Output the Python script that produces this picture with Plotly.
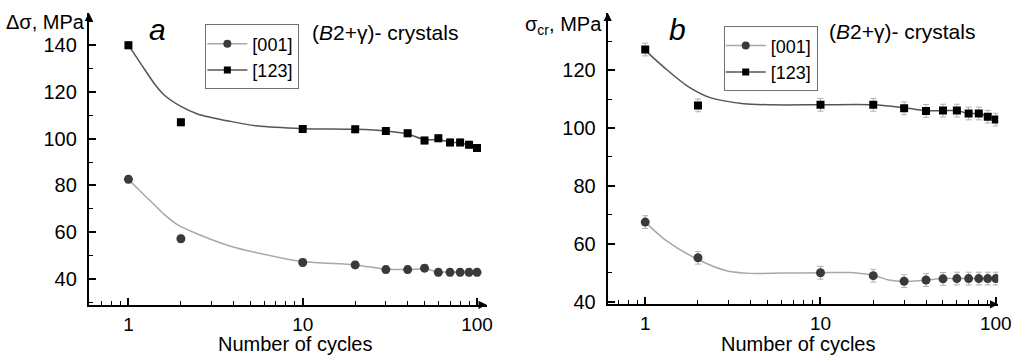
import plotly.graph_objects as go

W, H = 1028, 364
FONT = "Liberation Sans, Arial, sans-serif"

# ---------------- data ----------------
cycles = [1, 2, 10, 20, 30, 40, 50, 60, 70, 80, 90, 100]

# panel a : delta sigma, MPa
a_001 = [82.6, 57.2, 47.0, 46.0, 44.0, 44.0, 44.6, 42.8, 42.8, 42.8, 42.8, 42.8]
a_123 = [140.0, 107.0, 104.1, 104.0, 103.3, 102.3, 99.2, 100.2, 98.4, 98.4, 97.4, 96.0]
a_err = [1.5] * 12

a_fit001_x = [1, 1.19, 1.36, 1.61, 1.92, 2.49, 3.85, 5.45, 10, 20, 30, 40, 50, 60, 70, 80, 90, 100]
a_fit001_y = [82.6, 77.0, 72.8, 67.5, 63.1, 59.2, 54.0, 51.2, 47.4, 46.0, 44.2, 44.0, 44.3, 43.0, 43.0, 43.0, 43.0, 43.0]
a_fit123_x = [1, 1.19, 1.42, 1.61, 2, 2.49, 3.85, 5.45, 10, 20, 30, 40, 50, 60, 70, 80, 90, 100]
a_fit123_y = [140.0, 131.6, 123.2, 118.6, 113.8, 110.6, 107.4, 105.5, 104.3, 104.0, 103.3, 102.0, 99.6, 99.6, 98.5, 98.2, 97.3, 96.2]

# panel b : sigma_cr, MPa
b_001 = [67.5, 55.2, 50.0, 49.0, 47.1, 47.5, 47.9, 48.0, 48.0, 48.0, 48.0, 48.0]
b_123 = [127.1, 107.8, 108.0, 108.0, 106.8, 105.9, 106.0, 106.0, 105.0, 105.0, 103.9, 102.9]
b_err = [2.2] * 12

b_fit001_x = [1, 1.3, 2, 2.95, 4, 6.1, 10, 14.7, 20.4, 24.5, 30, 40, 50, 60, 70, 80, 90, 100]
b_fit001_y = [67.5, 61.4, 54.6, 50.6, 49.8, 49.9, 50.0, 50.1, 49.0, 47.5, 47.0, 47.5, 48.0, 48.0, 48.0, 48.0, 48.0, 48.0]
b_fit123_x = [1, 1.3, 1.75, 2.37, 3.65, 5.17, 10, 20, 30, 40, 50, 60, 70, 80, 90, 100]
b_fit123_y = [126.8, 120.6, 114.4, 110.4, 108.4, 108.0, 108.0, 108.0, 107.0, 106.0, 106.0, 106.0, 105.0, 105.0, 104.0, 103.0]

x_ticks = [1, 10, 100]
x_minor = [0.6, 0.7, 0.8, 0.9, 2, 3, 4, 5, 6, 7, 8, 9, 20, 30, 40, 50, 60, 70, 80, 90]
a_yticks = [40, 60, 80, 100, 120, 140]
a_yminor = [30, 50, 70, 90, 110, 130, 150]
b_yticks = [40, 60, 80, 100, 120]
b_yminor = [50, 70, 90, 110, 130]

C001 = "#3a3a3a"
C123 = "#000000"
L001 = "#a8a8a8"
L123 = "#555555"
ERRC = "#b0b0b0"

fig = go.Figure()


def add_panel(xa, ya, y001, y123, err, fx1, fy1, fx2, fy2, legend):
    fig.add_trace(go.Scatter(x=fx1, y=fy1, mode="lines", line=dict(color=L001, width=1.5, shape="spline", smoothing=0.8),
                             xaxis=xa, yaxis=ya, showlegend=False, hoverinfo="skip"))
    fig.add_trace(go.Scatter(x=fx2, y=fy2, mode="lines", line=dict(color=L123, width=1.5, shape="spline", smoothing=0.8),
                             xaxis=xa, yaxis=ya, showlegend=False, hoverinfo="skip"))
    fig.add_trace(go.Scatter(x=cycles, y=y001, mode="markers",
                             marker=dict(symbol="circle", size=9, color=C001),
                             error_y=dict(type="data", array=err, color=ERRC, thickness=1, width=3),
                             xaxis=xa, yaxis=ya, showlegend=False))
    fig.add_trace(go.Scatter(x=cycles, y=y123, mode="markers",
                             marker=dict(symbol="square", size=8, color=C123),
                             error_y=dict(type="data", array=err, color=ERRC, thickness=1, width=3),
                             xaxis=xa, yaxis=ya, showlegend=False))
    # legend-only entries (line + marker)
    fig.add_trace(go.Scatter(x=[None], y=[None], mode="lines+markers", name="[001]",
                             line=dict(color=L001, width=1.5), marker=dict(symbol="circle", size=8, color=C001),
                             xaxis=xa, yaxis=ya, legend=legend))
    fig.add_trace(go.Scatter(x=[None], y=[None], mode="lines+markers", name="[123]",
                             line=dict(color=L123, width=1.5), marker=dict(symbol="square", size=7, color=C123),
                             xaxis=xa, yaxis=ya, legend=legend))


add_panel("x", "y", a_001, a_123, a_err, a_fit001_x, a_fit001_y, a_fit123_x, a_fit123_y, "legend")
add_panel("x2", "y2", b_001, b_123, b_err, b_fit001_x, b_fit001_y, b_fit123_x, b_fit123_y, "legend2")


def px_x(p):
    return p / W


def px_y(p):
    return 1 - p / H


def xaxis_cfg(x0, x1, rng):
    return dict(domain=[px_x(x0), px_x(x1)], type="log", range=rng,
                tickvals=x_ticks, ticktext=[str(v) for v in x_ticks],
                ticks="inside", ticklen=7, tickwidth=1.5, tickcolor="black",
                minor=dict(tickvals=x_minor, ticks="inside", ticklen=4, tickwidth=1.2, tickcolor="black"),
                showline=True, linecolor="black", linewidth=2, showgrid=False, zeroline=False,
                tickfont=dict(family=FONT, size=19, color="black"), ticklabelstandoff=1)


def yaxis_cfg(y0, y1, rng, ticks, minor, anchor):
    return dict(domain=[px_y(y1), px_y(y0)], range=rng, anchor=anchor,
                tickvals=ticks, ticks="inside", ticklen=7, tickwidth=1.5, tickcolor="black",
                minor=dict(tickvals=minor, ticks="inside", ticklen=4, tickwidth=1.2, tickcolor="black"),
                showline=True, linecolor="black", linewidth=2, showgrid=False, zeroline=False,
                tickfont=dict(family=FONT, size=20, color="black"), ticklabelstandoff=6)


LEG = dict(xanchor="left", yanchor="top", bordercolor="#707070", borderwidth=1, bgcolor="white",
           font=dict(family=FONT, size=18, color="black"), itemwidth=40, tracegroupgap=0, indentation=-4)

fig.update_layout(
    width=W, height=H, margin=dict(l=0, r=0, t=0, b=0),
    paper_bgcolor="white", plot_bgcolor="white",
    font=dict(family=FONT, size=18, color="black"),
    xaxis=dict(xaxis_cfg(90, 493, [-0.227, 2.056]), anchor="y"),
    yaxis=yaxis_cfg(13, 311.7, [28.9, 153.9], a_yticks, a_yminor, "x"),
    xaxis2=dict(xaxis_cfg(615.5, 1011, [-0.214, 2.014]), anchor="y2"),
    yaxis2=yaxis_cfg(13, 311.2, [39.1, 139.8], b_yticks, b_yminor, "x2"),
    legend=dict(LEG, x=px_x(208), y=px_y(25)),
    legend2=dict(LEG, x=px_x(733), y=px_y(27)),
)

ann = []
# axis arrows
for xr, yr in (("x", "y"), ("x2", "y2")):
    ann.append(dict(xref=f"{xr} domain", yref=f"{yr} domain", x=0, y=1, ax=0, ay=6,
                    showarrow=True, arrowhead=2, arrowsize=1.1, arrowwidth=1.5, arrowcolor="black", text=""))
    ann.append(dict(xref=f"{xr} domain", yref=f"{yr} domain", x=1, y=0, ax=-6, ay=0,
                    showarrow=True, arrowhead=2, arrowsize=1.1, arrowwidth=1.5, arrowcolor="black", text=""))

ann += [
    dict(xref="paper", yref="paper", x=px_x(88), y=px_y(23), xanchor="right", yanchor="middle",
         text="Δσ, MPa", showarrow=False, font=dict(family=FONT, size=20)),
    dict(xref="paper", yref="paper", x=px_x(612), y=px_y(26), xanchor="right", yanchor="middle",
         text="σ<sub>cr</sub>, MPa", showarrow=False, font=dict(family=FONT, size=20)),
    dict(xref="paper", yref="paper", x=px_x(160), y=px_y(30), xanchor="center", yanchor="middle",
         text="<i>a</i>", showarrow=False, font=dict(family=FONT, size=30)),
    dict(xref="paper", yref="paper", x=px_x(686), y=px_y(30), xanchor="center", yanchor="middle",
         text="<i>b</i>", showarrow=False, font=dict(family=FONT, size=30)),
    dict(xref="paper", yref="paper", x=px_x(314), y=px_y(33), xanchor="left", yanchor="middle",
         text="(<i>B</i>2+γ)- crystals", showarrow=False, font=dict(family=FONT, size=21)),
    dict(xref="paper", yref="paper", x=px_x(838), y=px_y(32), xanchor="left", yanchor="middle",
         text="(<i>B</i>2+γ)- crystals", showarrow=False, font=dict(family=FONT, size=21)),
    dict(xref="paper", yref="paper", x=px_x(299), y=0, xanchor="center", yanchor="bottom",
         text="Number of cycles", showarrow=False, font=dict(family=FONT, size=20), borderpad=0),
    dict(xref="paper", yref="paper", x=px_x(809), y=0, xanchor="center", yanchor="bottom",
         text="Number of cycles", showarrow=False, font=dict(family=FONT, size=20), borderpad=0),
]
fig.update_layout(annotations=ann)

fig.write_html("out.html")
